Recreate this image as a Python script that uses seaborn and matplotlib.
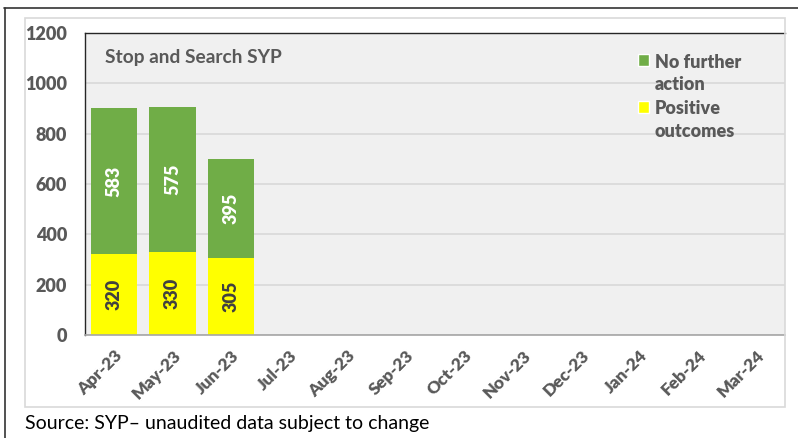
import matplotlib
matplotlib.use("Agg")
import matplotlib.pyplot as plt
import seaborn as sns
import numpy as np
import pandas as pd
from matplotlib.lines import Line2D
from matplotlib.patches import Rectangle, Patch

months = ["Apr-23", "May-23", "Jun-23", "Jul-23", "Aug-23", "Sep-23",
          "Oct-23", "Nov-23", "Dec-23", "Jan-24", "Feb-24", "Mar-24"]
positive_outcomes = [320, 330, 305, np.nan, np.nan, np.nan,
                     np.nan, np.nan, np.nan, np.nan, np.nan, np.nan]
no_further_action = [583, 575, 395, np.nan, np.nan, np.nan,
                     np.nan, np.nan, np.nan, np.nan, np.nan, np.nan]

GREEN = "#70AD47"
YELLOW = "#FFFF00"
TEXT = "#595959"

sns.set_theme(style="white")
plt.rcParams["font.family"] = ["Lato", "DejaVu Sans"]
plt.rcParams["font.weight"] = "bold"

df = pd.DataFrame({
    "month": months,
    "positive": positive_outcomes,
    "nfa": no_further_action,
})
df["total"] = df["positive"] + df["nfa"]

fig = plt.figure(figsize=(7.98, 4.38), dpi=100)
W, H = 798, 438
ax = fig.add_axes([85 / W, 1 - 335 / H, 700 / W, 302 / H])
ax.set_facecolor("#F0F0F0")

sns.barplot(data=df, x="month", y="total", order=months, color=GREEN,
            saturation=1, width=0.79, ax=ax, linewidth=0)
sns.barplot(data=df, x="month", y="positive", order=months, color=YELLOW,
            saturation=1, width=0.79, ax=ax, linewidth=0)

ax.set_ylim(0, 1200)
ax.set_yticks(range(0, 1201, 200))
ax.set_xlim(-0.5, len(months) - 0.5)
ax.set_xlabel("")
ax.set_ylabel("")
ax.yaxis.grid(True, color="#D9D9D9", linewidth=1.2)
ax.set_axisbelow(True)

for s in ["left", "top"]:
    ax.spines[s].set_color("#262626")
    ax.spines[s].set_linewidth(1.0)
ax.spines["right"].set_visible(False)
ax.spines["bottom"].set_color("#A6A6A6")
ax.spines["bottom"].set_linewidth(1.2)

ax.tick_params(axis="y", length=0, pad=13, labelsize=13, labelcolor=TEXT)
ax.tick_params(axis="x", length=0, pad=9, labelsize=12.5, labelcolor=TEXT)
ax.set_xticks(range(len(months)))
ax.set_xticklabels(months, rotation=45, ha="right", rotation_mode="anchor")
for lab in ax.get_xticklabels() + ax.get_yticklabels():
    lab.set_fontweight("heavy")

# segment value labels
for i, (p, n) in enumerate(zip(positive_outcomes, no_further_action)):
    if np.isnan(p):
        continue
    ax.text(i, p / 2, f"{int(p)}", rotation=90, ha="center", va="center",
            fontsize=13, fontweight="heavy", color="#404040")
    ax.text(i, p + n / 2, f"{int(n)}", rotation=90, ha="center", va="center",
            fontsize=13, fontweight="heavy", color="white")

ax.text(0.028, 0.92, "Stop and Search SYP", transform=ax.transAxes,
        fontsize=13.8, color=TEXT, va="center")

handles = [Patch(facecolor=GREEN, label="No further\naction"),
           Patch(facecolor=YELLOW, label="Positive\noutcomes")]
leg = ax.legend(handles=handles, loc="upper left",
                bbox_to_anchor=(546 / 700, 0.955), frameon=False,
                prop={"weight": "heavy", "size": 13}, labelcolor=TEXT,
                handlelength=0.62, handleheight=0.62, handletextpad=0.3,
                labelspacing=0.4, borderaxespad=0)
for t in leg.get_texts():
    t.set_linespacing(1.38)
for h in leg.legend_handles:
    h.set_y(h.get_y() + 10)

# chart frame and outer border
fig.add_artist(Rectangle((25 / W, 1 - 407 / H), 760 / W, 389 / H,
                         transform=fig.transFigure, fill=False,
                         edgecolor="#D9D9D9", linewidth=1.2))
fig.add_artist(Line2D([4 / W, 1], [1 - 7.5 / H, 1 - 7.5 / H],
                      transform=fig.transFigure, color="#333333", linewidth=1.2))
fig.add_artist(Line2D([4.5 / W, 4.5 / W], [0, 1 - 7.5 / H],
                      transform=fig.transFigure, color="#333333", linewidth=1.2))

fig.text(25 / W, 1 - 423 / H, "Source: SYP\u2013 unaudited data subject to change",
         fontsize=14, fontweight="normal", color="black", va="center", ha="left")

fig.savefig("out.png", dpi=100)
